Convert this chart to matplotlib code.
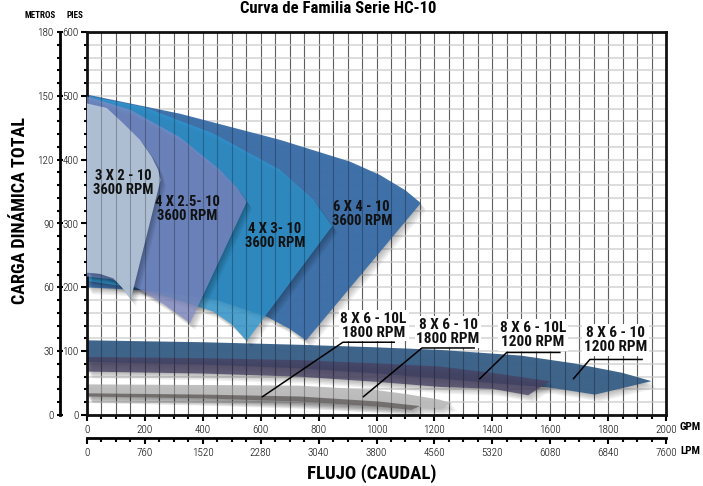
import numpy as np
import matplotlib
matplotlib.use('Agg')
import matplotlib.pyplot as plt
import matplotlib.patheffects as pe
from matplotlib import font_manager as fm
from matplotlib.ticker import MultipleLocator

# fuente condensada si existe
nombres = {f.name for f in fm.fontManager.ttflist}
fuente = next((n for n in ['Roboto Condensed', 'Liberation Sans Narrow', 'Open Sans Condensed',
                           'DejaVu Sans'] if n in nombres), 'DejaVu Sans')
plt.rcParams['font.family'] = [fuente, 'DejaVu Sans']
plt.rcParams['font.stretch'] = 'condensed'

# ---- datos (GPM, pies) ----
# 3 X 2 - 10  3600 RPM
q_3x2_sup = [0, 68, 125, 183, 223, 246, 254]
h_3x2_sup = [488, 481, 457, 431, 405, 384, 368]
q_3x2_inf = [151, 120, 91, 45, 0]
h_3x2_inf = [181, 200, 214, 221, 223]
# 4 X 2.5 - 10  3600 RPM
q_4x25_sup = [0, 150, 321, 459, 520, 552]
h_4x25_sup = [499, 478, 435, 384, 355, 334]
q_4x25_inf = [356, 264, 166, 80, 0]
h_4x25_inf = [144, 174, 201, 213, 217]
# 4 X 3 - 10  3600 RPM
q_4x3_sup = [0, 200, 436, 667, 782, 847]
h_4x3_sup = [500, 482, 441, 384, 337, 296]
q_4x3_inf = [552, 500, 436, 206, 0]
h_4x3_inf = [116, 142, 162, 196, 210]
# 6 X 4 - 10  3600 RPM
q_6x4_sup = [0, 321, 667, 908, 1012, 1100, 1153]
h_6x4_sup = [502, 472, 431, 397, 376, 352, 332]
q_6x4_inf = [757, 700, 621, 450, 250, 0]
h_6x4_inf = [117, 135, 154, 180, 194, 200]
# 8 X 6 - 10  1200 RPM
q_86_1200_sup = [0, 400, 736, 1000, 1219, 1500, 1680, 1850, 1950]
h_86_1200_sup = [117, 114, 110, 106, 102, 93, 81, 66, 53]
q_86_1200_inf = [1755, 1599, 1400, 1219, 1000, 736, 400, 0]
h_86_1200_inf = [32, 43, 50, 57, 65, 73, 79, 83]
# 8 X 6 - 10L  1200 RPM
q_86L_1200_sup = [0, 400, 736, 1000, 1219, 1400, 1599]
h_86L_1200_sup = [91, 89, 86, 81, 76, 66, 53]
q_86L_1200_inf = [1524, 1400, 1219, 1000, 736, 400, 0]
h_86L_1200_inf = [31, 41, 44, 52, 60, 65, 68]
# 8 X 6 - 10  1800 RPM
q_86_1800_sup = [0, 400, 736, 1000, 1100, 1219, 1260]
h_86_1800_sup = [48, 47, 46, 39, 33, 24, 18]
q_86_1800_inf = [1219, 1012, 736, 400, 0]
h_86_1800_inf = [11, 14, 20, 25, 30]
# 8 X 6 - 10L  1800 RPM
q_86L_1800_sup = [0, 400, 736, 1012, 1150]
h_86L_1800_sup = [34, 32, 29, 21, 14]
q_86L_1800_inf = [1120, 1012, 736, 400, 0]
h_86L_1800_inf = [8, 13, 21, 26, 29]

# etiquetas
txt_3600 = ['3 X 2 - 10\n3600 RPM', '4 X 2.5- 10\n3600 RPM', '4 X 3- 10\n3600 RPM', '6 X 4 - 10\n3600 RPM']
q_txt_3600 = [125, 347, 649, 949]
h_txt_3600 = [364, 322, 281, 315]

txt_8x6 = ['8 X 6 - 10L\n1800 RPM', '8 X 6 - 10\n1800 RPM', '8 X 6 - 10L\n1200 RPM', '8 X 6 - 10\n1200 RPM']
q_txt_8x6 = [990, 1247, 1540, 1826]
h_txt_8x6 = [140, 130, 125, 117]
q_sub0 = [884, 1157, 1450, 1737]
q_sub1 = [1064, 1340, 1636, 1920]
h_sub = [114, 105, 98, 87]
q_punta = [604, 953, 1355, 1679]
h_punta = [28, 28, 56, 56]

W, H = 703, 486
fig = plt.figure(figsize=(W / 100, H / 100), dpi=100)
ax = fig.add_axes([87 / W, 1 - 415 / H, (666 - 87) / W, (415 - 32) / H])
ax.set_xlim(0, 2000)
ax.set_ylim(0, 600)

ax.xaxis.set_major_locator(MultipleLocator(200))
ax.xaxis.set_minor_locator(MultipleLocator(50))
ax.yaxis.set_major_locator(MultipleLocator(100))
ax.yaxis.set_minor_locator(MultipleLocator(20))
ax.set_axisbelow(True)
ax.grid(which='both', axis='y', color='#dadada', lw=1.3)
ax.grid(which='both', axis='x', color='#808080', lw=0.8)

sombra = [pe.SimplePatchShadow(offset=(o, -1.3 * o), shadow_rgbFace='k', alpha=0.06)
          for o in (0.6, 1.4, 2.2, 3.0, 3.8)] + [pe.Normal()]


def forma(qs, hs, qi, hi, color, alpha, z):
    ax.fill(qs + qi, hs + hi, color=color, alpha=alpha, lw=0, zorder=z, path_effects=sombra)


forma(q_86_1200_sup, h_86_1200_sup, q_86_1200_inf, h_86_1200_inf, '#3a6189', 0.97, 2)
forma(q_86L_1200_sup, h_86L_1200_sup, q_86L_1200_inf, h_86L_1200_inf, '#484263', 0.8, 2.1)
forma(q_86_1800_sup, h_86_1800_sup, q_86_1800_inf, h_86_1800_inf, '#bcbcbc', 0.95, 2.2)
forma(q_86L_1800_sup, h_86L_1800_sup, q_86L_1800_inf, h_86L_1800_inf, '#716c6c', 0.95, 2.3)
forma(q_6x4_sup, h_6x4_sup, q_6x4_inf, h_6x4_inf, '#3b6ea8', 0.97, 2.4)
forma(q_4x3_sup, h_4x3_sup, q_4x3_inf, h_4x3_inf, '#2f98d2', 0.78, 2.5)
forma(q_4x25_sup, h_4x25_sup, q_4x25_inf, h_4x25_inf, '#828cc8', 0.75, 2.6)
forma(q_3x2_sup, h_3x2_sup, q_3x2_inf, h_3x2_inf, '#b3c4d8', 0.95, 2.7)

# lineas verticales visibles a traves de las formas
ax.vlines(np.arange(50, 2000, 50), 0, 600, color='k', alpha=0.25, lw=0.8, zorder=5)

for t, q, h in zip(txt_3600, q_txt_3600, h_txt_3600):
    ax.text(q, h, t, ha='center', va='center', fontsize=10.5, weight='bold',
            color='#111111', linespacing=1.0, zorder=8)

for t, q, h, a0, a1, hs, qp, hp in zip(txt_8x6, q_txt_8x6, h_txt_8x6, q_sub0, q_sub1,
                                        h_sub, q_punta, h_punta):
    ax.text(q, h, t, ha='center', va='center', fontsize=11, weight='bold', color='#111111',
            linespacing=1.0, zorder=9,
            bbox=dict(boxstyle='square,pad=0.12', fc='white', ec='none'))
    ax.plot([qp, a0, a1], [hp, hs, hs], color='k', lw=1.1, zorder=10, solid_capstyle='butt')

for s in ax.spines.values():
    s.set_linewidth(2)
    s.set_color('#111111')
ax.tick_params(axis='x', which='major', direction='out', length=4, width=1.5, pad=3, labelsize=8)
ax.tick_params(axis='x', which='minor', direction='out', length=3, width=1.5)
ax.tick_params(axis='y', which='major', direction='out', length=4, width=1.5, pad=2, labelsize=8)
ax.tick_params(axis='y', which='minor', direction='out', length=2.5, width=1.5)

# eje en metros
axm = ax.twinx()
axm.set_ylim(0, 180)
axm.yaxis.set_ticks_position('left')
axm.spines['left'].set_visible(True)
axm.spines['left'].set_position(('outward', 27 * 0.72))
axm.spines['left'].set_linewidth(2)
for s in ['right', 'top', 'bottom']:
    axm.spines[s].set_visible(False)
axm.yaxis.set_major_locator(MultipleLocator(30))
axm.yaxis.set_minor_locator(MultipleLocator(6))
axm.tick_params(axis='y', which='major', direction='inout', length=5, width=1.5, pad=2, labelsize=8)
axm.tick_params(axis='y', which='minor', direction='out', length=2.5, width=1.5)

# eje en LPM
axl = ax.twiny()
axl.set_xlim(0, 7600)
axl.xaxis.set_ticks_position('bottom')
axl.spines['bottom'].set_visible(True)
axl.spines['bottom'].set_position(('outward', 23 * 0.72))
axl.spines['bottom'].set_linewidth(2)
for s in ['right', 'top', 'left']:
    axl.spines[s].set_visible(False)
axl.xaxis.set_major_locator(MultipleLocator(760))
axl.xaxis.set_minor_locator(MultipleLocator(190))
axl.tick_params(axis='x', which='major', direction='out', length=4, width=1.5, pad=3, labelsize=8)
axl.tick_params(axis='x', which='minor', direction='out', length=3, width=1.5)

for a in (ax, axm, axl):
    for lab in a.get_xticklabels() + a.get_yticklabels():
        lab.set_fontweight('light')

fig.text(690 / W, 1 - 427 / H, 'GPM', ha='center', va='center', fontsize=8, weight='bold')
fig.text(690 / W, 1 - 451 / H, 'LPM', ha='center', va='center', fontsize=8, weight='bold')
fig.text(40 / W, 1 - 16 / H, 'METROS', ha='center', va='center', fontsize=6.5, weight='bold')
fig.text(75 / W, 1 - 16 / H, 'PIES', ha='center', va='center', fontsize=6.5, weight='bold')
fig.text(20 / W, 1 - 210 / H, 'CARGA DINÁMICA TOTAL', rotation=90, ha='center', va='center',
         fontsize=13, weight='bold')
fig.text(372 / W, 1 - 474 / H, 'FLUJO (CAUDAL)', ha='center', va='center', fontsize=13.5, weight='bold')
fig.text(338 / W, 1 - 1 / H, 'Curva de Familia Serie HC-10', ha='center', va='top',
         fontsize=12, weight='bold')

fig.savefig('out.png', dpi=100)
